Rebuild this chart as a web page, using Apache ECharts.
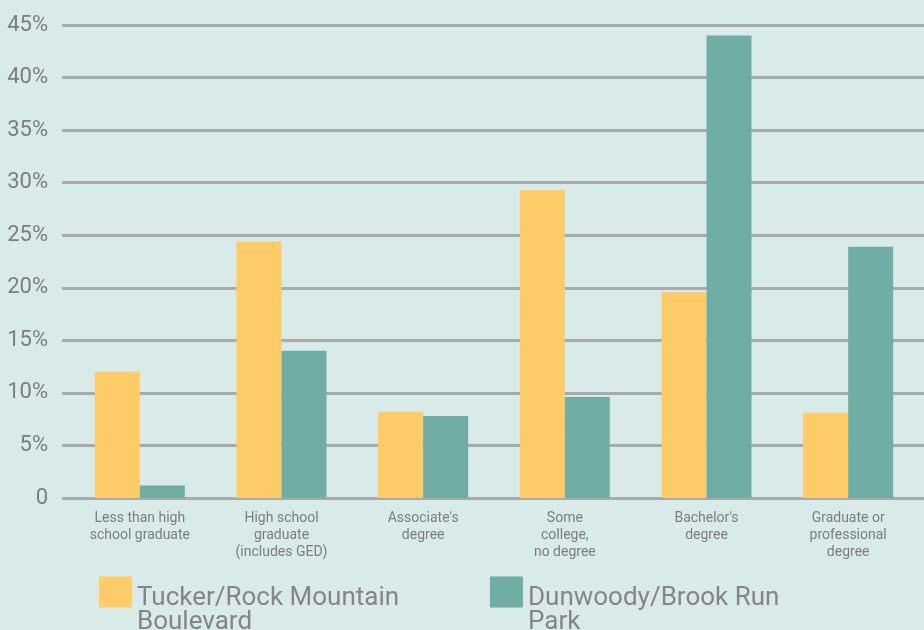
<!DOCTYPE html>
<html><head><meta charset="utf-8">
<script src="https://cdn.jsdelivr.net/npm/echarts@6/dist/echarts.min.js"></script>
<style>html,body{margin:0;padding:0;background:#d8ebe8;}#c{width:924px;height:630px;}</style>
</head><body><div id="c"></div>
<script>
const categories = ["Less than high\nschool graduate", "High school\ngraduate\n(includes GED)", "Associate's\ndegree", "Some\ncollege,\nno degree", "Bachelor's\ndegree", "Graduate or\nprofessional\ndegree"];
const tuckerName = "Tucker/Rock Mountain Boulevard";
const dunwoodyName = "Dunwoody/Brook Run Park";
const tucker = [12.0, 24.4, 8.2, 29.3, 19.6, 8.1];
const dunwoody = [1.2, 14.0, 7.8, 9.6, 44.0, 23.9];
const yMax = 45, yStep = 5;

const cf = "Roboto, sans-serif";
const gray = '#7d7d7d';
const legendText = {fontFamily: cf, fontSize: 26, color: '#858585', lineHeight: 24,
  rich: {s: {height: 36, lineHeight: 36, fontSize: 10}}};
const chart = echarts.init(document.getElementById('c'));
chart.setOption({
  backgroundColor: '#d8ebe8',
  animation: false,
  grid: [
    {left: 62, right: 0, top: 25, bottom: 132},
    {left: 69, right: 5, top: 25, bottom: 132}
  ],
  legend: [
    {data: [tuckerName], left: 94, top: 545, icon: 'rect', itemWidth: 33, itemHeight: 31, itemGap: 9,
     formatter: () => '{s| }\nTucker/Rock Mountain\nBoulevard', textStyle: legendText},
    {data: [dunwoodyName], left: 485, top: 545, icon: 'rect', itemWidth: 33, itemHeight: 31, itemGap: 15,
     formatter: () => '{s| }\nDunwoody/Brook Run\nPark', textStyle: legendText}
  ],
  xAxis: [
    {type: 'value', gridIndex: 0, show: false, min: 0, max: 1},
    {type: 'category', gridIndex: 1, data: categories,
     axisLine: {show: false}, axisTick: {show: false},
     axisLabel: {color: gray, fontFamily: cf, fontSize: 14, lineHeight: 17, margin: 12, interval: 0}}
  ],
  yAxis: [
    {type: 'value', gridIndex: 0, min: 0, max: yMax, interval: yStep,
     axisLine: {show: false}, axisTick: {show: false},
     axisLabel: {color: gray, fontFamily: cf, fontSize: 22, margin: 14,
       formatter: v => v === 0 ? '0' : v + '%'},
     splitLine: {lineStyle: {color: '#a9aaad', width: 3}}},
    {type: 'value', gridIndex: 1, min: 0, max: yMax, interval: yStep, show: false, splitLine: {show: false}}
  ],
  series: [
    {name: tuckerName, type: 'bar', xAxisIndex: 1, yAxisIndex: 1, data: tucker,
     barWidth: 45, barGap: '0%', itemStyle: {color: '#fecb69'}},
    {name: dunwoodyName, type: 'bar', xAxisIndex: 1, yAxisIndex: 1, data: dunwoody,
     barWidth: 45, barGap: '0%', itemStyle: {color: '#70ada5'}}
  ]
});
</script></body></html>
